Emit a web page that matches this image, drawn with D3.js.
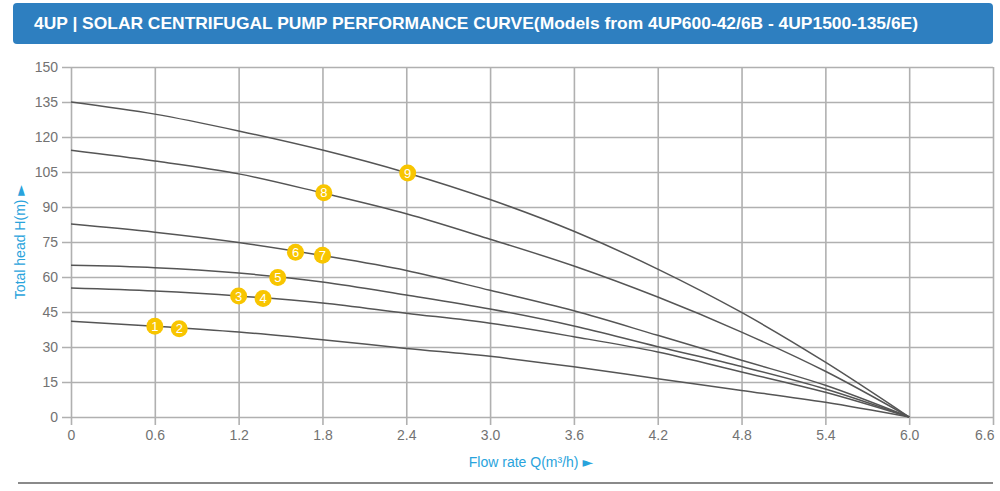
<!DOCTYPE html>
<html>
<head>
<meta charset="utf-8">
<script src="https://cdn.jsdelivr.net/npm/d3@7"></script>
<style>
  html, body { margin: 0; padding: 0; background: #fff; }
  svg { display: block; }
</style>
</head>
<body>
<svg id="chart" width="1000" height="491"></svg>
<script>
const title = "4UP | SOLAR CENTRIFUGAL PUMP PERFORMANCE CURVE(Models from 4UP600-42/6B - 4UP1500-135/6E)";
const xTitle = "Flow rate Q(m\u00B3/h)";
const yTitle = "Total head H(m)";
const xArrow = "\u25BA";
const yArrow = "\u25BA";

const flow = [0, 0.6, 1.2, 1.8, 2.4, 3.0, 3.6, 4.2, 4.8, 5.4, 6.0];
const xTicks = [0, 0.6, 1.2, 1.8, 2.4, 3.0, 3.6, 4.2, 4.8, 5.4, 6.0, 6.6];
const yTicks = [0, 15, 30, 45, 60, 75, 90, 105, 120, 135, 150];

const headA = [135, 129.8, 122.6, 114.4, 104.7, 93.2, 79.6, 63.4, 44.8, 23.5, 0];
const headB = [114.3, 109.7, 104.2, 96.0, 87.1, 76.2, 64.7, 51.4, 36.4, 19.6, 0];
const headC = [82.7, 79.2, 74.8, 69.2, 62.8, 54.3, 45.5, 35.0, 24.3, 13.6, 0];
const headD = [65.0, 64.0, 61.7, 57.9, 52.3, 46.3, 39.0, 30.1, 21.6, 12.0, 0];
const headE = [55.3, 54.0, 51.9, 48.9, 44.5, 40.2, 34.4, 27.9, 19.3, 10.6, 0];
const headF = [41.0, 38.9, 36.4, 33.1, 29.4, 26.0, 21.5, 16.4, 11.4, 6.3, 0];
const curves = [headA, headB, headC, headD, headE, headF];

const markerLabels = ["1", "2", "3", "4", "5", "6", "7", "8", "9"];
const markerFlow = [0.6, 0.775, 1.2, 1.375, 1.48, 1.607, 1.8, 1.81, 2.41];
const markerHead = [38.9, 37.8, 51.9, 50.8, 59.8, 70.6, 69.3, 96.1, 104.6];

const svg = d3.select("#chart");

// Header bar
svg.append("rect")
  .attr("x", 13).attr("y", 3).attr("width", 980).attr("height", 41)
  .attr("rx", 4).attr("fill", "#2e7fc0");
svg.append("text")
  .attr("x", 34).attr("y", 29)
  .attr("fill", "#fff")
  .attr("font-family", "'Liberation Sans', Arial, sans-serif")
  .attr("font-weight", "bold")
  .attr("font-size", 17)
  .attr("textLength", 884)
  .attr("lengthAdjust", "spacingAndGlyphs")
  .text(title);

const mLeft = 71, mRight = 993, mTop = 67, mBottom = 417;
const x = d3.scaleLinear().domain([0, 6.6]).range([mLeft, mRight]);
const y = d3.scaleLinear().domain([0, 150]).range([mBottom, mTop]);

const gridColor = "#b0b0b0";
const labelColor = "#727272";
const font = "'Liberation Sans', Arial, sans-serif";

// Y axis with gridlines
const yAxis = svg.append("g")
  .attr("transform", `translate(${mRight},0)`)
  .call(d3.axisLeft(y).tickValues(yTicks).tickSize(mRight - mLeft + 9).tickPadding(4).tickFormat(d3.format("d")));
yAxis.select(".domain").remove();
yAxis.selectAll(".tick line").attr("stroke", gridColor).attr("stroke-width", 1.6);
yAxis.selectAll(".tick text").attr("fill", labelColor).attr("font-family", font).attr("font-size", 14);

// X axis with gridlines
const xAxis = svg.append("g")
  .attr("transform", `translate(0,${mTop})`)
  .call(d3.axisBottom(x).tickValues(xTicks).tickSize(mBottom - mTop + 8).tickPadding(5)
    .tickFormat(d => d === 0 ? "0" : d3.format(".1f")(d)));
xAxis.select(".domain").remove();
xAxis.selectAll(".tick line").attr("stroke", gridColor).attr("stroke-width", 1.6);
xAxis.selectAll(".tick text").attr("fill", labelColor).attr("font-family", font).attr("font-size", 14);
xAxis.selectAll(".tick text").filter(d => d === 6.6).attr("text-anchor", "end").attr("dx", 1);

// Curves
const line = d3.line()
  .x((d, i) => x(flow[i]))
  .y(d => y(d))
  .curve(d3.curveMonotoneX);
svg.append("g").selectAll("path")
  .data(curves)
  .join("path")
  .attr("d", line)
  .attr("fill", "none")
  .attr("stroke", "#555")
  .attr("stroke-width", 1.5);

// Markers
const mk = svg.append("g").selectAll("g")
  .data(markerLabels)
  .join("g")
  .attr("transform", (d, i) => `translate(${x(markerFlow[i])},${y(markerHead[i])})`);
mk.append("circle").attr("r", 8.5).attr("fill", "#f8c500");
mk.append("text")
  .attr("text-anchor", "middle")
  .attr("dy", "0.36em")
  .attr("fill", "#fff")
  .attr("font-family", font)
  .attr("font-size", 13)
  .text(d => d);

// Axis titles
const yt = svg.append("text")
  .attr("transform", "translate(25,242) rotate(-90)")
  .attr("text-anchor", "middle")
  .attr("fill", "#29a3dc")
  .attr("font-family", font)
  .attr("font-size", 14);
yt.append("tspan").text(yTitle + " ");
yt.append("tspan").attr("font-family", "'DejaVu Sans', sans-serif").attr("font-size", 14).text(yArrow);

const xt = svg.append("text")
  .attr("x", 531).attr("y", 467)
  .attr("text-anchor", "middle")
  .attr("fill", "#29a3dc")
  .attr("font-family", font)
  .attr("font-size", 14);
xt.append("tspan").text(xTitle + " ");
xt.append("tspan").attr("font-family", "'DejaVu Sans', sans-serif").attr("font-size", 14).text(xArrow);

// Bottom rule
svg.append("line")
  .attr("x1", 18).attr("x2", 993).attr("y1", 483).attr("y2", 483)
  .attr("stroke", "#8a8a8a").attr("stroke-width", 2);
</script>
</body>
</html>
